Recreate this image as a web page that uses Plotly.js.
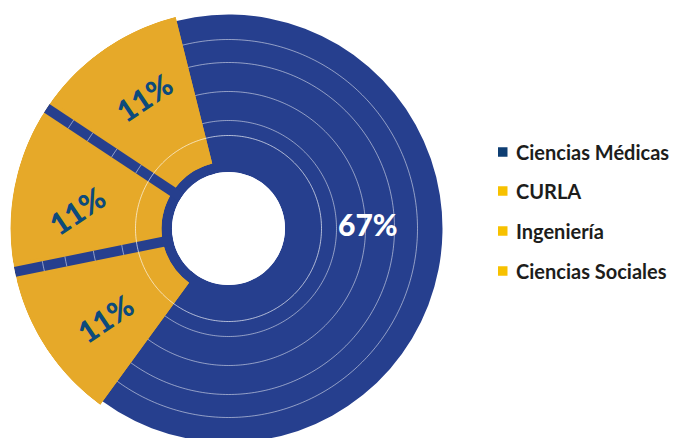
<!DOCTYPE html>
<html>
<head>
<meta charset="utf-8">
<script src="https://cdn.plot.ly/plotly-3.0.1.min.js"></script>
<style>
  html, body { margin: 0; padding: 0; overflow: hidden; background: #ffffff; }
  #chart { width: 674px; height: 450px; }
</style>
</head>
<body>
<div id="chart"></div>
<script>
// ---- data ----
const categories = ['Ciencias Médicas', 'CURLA', 'Ingeniería', 'Ciencias Sociales'];
const values = [66.7, 11.1, 11.1, 11.1];
const valueLabels = ['67%', '11%', '11%', '11%'];
const legendColors = ['#0e3e73', '#f7c100', '#f7c100', '#f7c100'];

// ---- styling / geometry ----
const W = 674, H = 450;
const CX = 228.5, CY = 228.5;          // centre in px from top-left
const R_HOLE = 56.5, R_BLUE = 214, R_YEL = 218, R_YEL_IN = 67;
const BLUE = '#263f8e', YELLOW = '#e6a929', LABEL_BLUE = '#0c4a7c';
const GRID = 'rgba(255,255,255,0.5)';
const GAP = 5;                           // angular spacing between yellow slices (deg)
const SEP_PX = 10;                       // separator band width (px)
const BLOCK_CENTER = 169;                // centre angle of the yellow block (deg)
const RINGS = [108, 137, 166, 189];
const RING_FRONT = 93;
// label placement (radius px, angle offset from slice centre)
const LABEL_POS = [{ r: 140, a: 3 }, { r: 152, da: 0.6 }, { r: 154.5, da: 3 }, { r: 160, da: -1.4 }];

const deg = values.map(v => v * 3.6);
const yelDeg = deg.slice(1);
const blockTotal = yelDeg.reduce((a, b) => a + b, 0) + GAP * (yelDeg.length - 1);
let cur = BLOCK_CENTER + blockTotal / 2;
const yelTheta = [], sepTheta = [];
yelDeg.forEach((d, i) => {
  yelTheta.push(cur - d / 2);
  cur -= d;
  if (i < yelDeg.length - 1) { sepTheta.push(cur - GAP / 2); cur -= GAP; }
});
const blueTheta = BLOCK_CENTER + 180;

function circle(radii, a0, a1, step) {
  const th = [], rr = [];
  radii.forEach(r => {
    for (let a = a0; a <= a1 + 1e-9; a += step) { th.push(a); rr.push(r); }
    th.push(null); rr.push(null);
  });
  return { th, rr };
}
const back = circle(RINGS, 0, 360, 1);
const front = circle([RING_FRONT], 0, 360, 1);
// short arcs of the back rings that stay visible across the separators
const arcTh = [], arcR = [];
sepTheta.forEach(s => {
  RINGS.forEach(r => {
    const h = (SEP_PX / 2) / r * 180 / Math.PI;
    for (let k = 0; k <= 4; k++) { arcTh.push(s - h + k * h / 2); arcR.push(r); }
    arcTh.push(null); arcR.push(null);
  });
});
const sepTh = [], sepR = [];
sepTheta.forEach(s => { sepTh.push(s, s, null); sepR.push(R_HOLE, R_YEL, null); });

const domain = {
  x: [(CX - R_YEL) / W, (CX + R_YEL) / W],
  y: [(H - CY - R_YEL) / H, (H - CY + R_YEL) / H]
};

const traces = [
  // ---- lower polar: blue ----
  { type: 'barpolar', subplot: 'polar', showlegend: false, hoverinfo: 'skip',
    theta: [BLOCK_CENTER], width: [blockTotal], base: [R_HOLE], r: [R_YEL_IN - R_HOLE + 1],
    marker: { color: BLUE, line: { width: 0 } } },
  { type: 'barpolar', subplot: 'polar', name: categories[0], showlegend: false,
    theta: [blueTheta], width: [deg[0]], base: [R_HOLE], r: [R_BLUE - R_HOLE],
    marker: { color: BLUE, line: { width: 0 } } },
  { type: 'scatterpolar', subplot: 'polar', mode: 'lines', showlegend: false, hoverinfo: 'skip',
    theta: back.th, r: back.rr, line: { color: GRID, width: 1 }, connectgaps: false },
  // ---- upper polar: yellow ----
  { type: 'barpolar', subplot: 'polar2', showlegend: false, hoverinfo: 'skip',
    theta: [BLOCK_CENTER], width: [blockTotal], base: [R_YEL_IN], r: [R_YEL - R_YEL_IN],
    marker: { color: YELLOW, line: { width: 0 } } },
  { type: 'barpolar', subplot: 'polar2', showlegend: false,
    theta: yelTheta, width: yelDeg, base: yelDeg.map(() => R_YEL_IN),
    r: yelDeg.map(() => R_YEL - R_YEL_IN), text: categories.slice(1),
    marker: { color: YELLOW, line: { width: 0 } } },
  { type: 'scatterpolar', subplot: 'polar2', mode: 'lines', showlegend: false, hoverinfo: 'skip',
    theta: sepTh, r: sepR, line: { color: BLUE, width: SEP_PX }, connectgaps: false },
  { type: 'scatterpolar', subplot: 'polar2', mode: 'lines', showlegend: false, hoverinfo: 'skip',
    theta: arcTh, r: arcR, line: { color: GRID, width: 1 }, connectgaps: false },
  { type: 'scatterpolar', subplot: 'polar2', mode: 'lines', showlegend: false, hoverinfo: 'skip',
    theta: front.th, r: front.rr, line: { color: 'rgba(255,255,255,0.65)', width: 1 }, connectgaps: false }
];

const radialCommon = {
  range: [R_HOLE, R_YEL], autorange: false, showline: false, showticklabels: false,
  ticks: '', showgrid: false
};
const angularCommon = {
  showgrid: false, showline: false, showticklabels: false, ticks: '',
  direction: 'counterclockwise', rotation: 0
};

// polar (px radius, degrees) -> paper, with a small shift so glyphs (not the text box) are centred
function toPaper(r, a, sx, sy) {
  const t = a * Math.PI / 180;
  return { x: (CX + r * Math.cos(t) + sx) / W, y: (H - CY + r * Math.sin(t) - sy) / H };
}

const annotations = [];
const p0 = toPaper(LABEL_POS[0].r, LABEL_POS[0].a, 0, 2.5);
annotations.push({ xref: 'paper', yref: 'paper', x: p0.x, y: p0.y, text: valueLabels[0],
  showarrow: false, xanchor: 'center', yanchor: 'middle',
  font: { family: 'Lato, sans-serif', size: 30, color: '#ffffff', weight: 900 } });
yelTheta.forEach((th, i) => {
  const lp = LABEL_POS[i + 1];
  const p = toPaper(lp.r, th + lp.da, 1.8, 2.8);
  annotations.push({ xref: 'paper', yref: 'paper', x: p.x, y: p.y, text: valueLabels[i + 1],
    showarrow: false, xanchor: 'center', yanchor: 'middle', textangle: -34,
    font: { family: 'Lato, sans-serif', size: 30, color: LABEL_BLUE, weight: 900 } });
});

// legend
const legendRows = [152, 191, 231, 271];
const shapes = [];
categories.forEach((c, i) => {
  const yc = legendRows[i];
  shapes.push({ type: 'rect', xref: 'paper', yref: 'paper',
    x0: 498 / W, x1: 507.5 / W, y0: (H - yc - 4.75) / H, y1: (H - yc + 4.75) / H,
    fillcolor: legendColors[i], line: { width: 0 } });
  annotations.push({ xref: 'paper', yref: 'paper', x: 514 / W, y: (H - yc) / H,
    text: c, showarrow: false, xanchor: 'left', yanchor: 'middle',
    font: { family: 'Lato, sans-serif', size: 20, color: '#1d1d1b', weight: 'bold' } });
});

const layout = {
  width: W, height: H,
  margin: { l: 0, r: 0, t: 0, b: 0 },
  paper_bgcolor: '#ffffff',
  showlegend: false,
  polar: { domain: domain, hole: R_HOLE / R_YEL, bgcolor: 'rgba(0,0,0,0)',
    radialaxis: radialCommon, angularaxis: angularCommon },
  polar2: { domain: domain, hole: R_HOLE / R_YEL, bgcolor: 'rgba(0,0,0,0)',
    radialaxis: radialCommon, angularaxis: angularCommon },
  annotations: annotations,
  shapes: shapes
};

Plotly.newPlot('chart', traces, layout, { staticPlot: true, displayModeBar: false });
</script>
</body>
</html>
